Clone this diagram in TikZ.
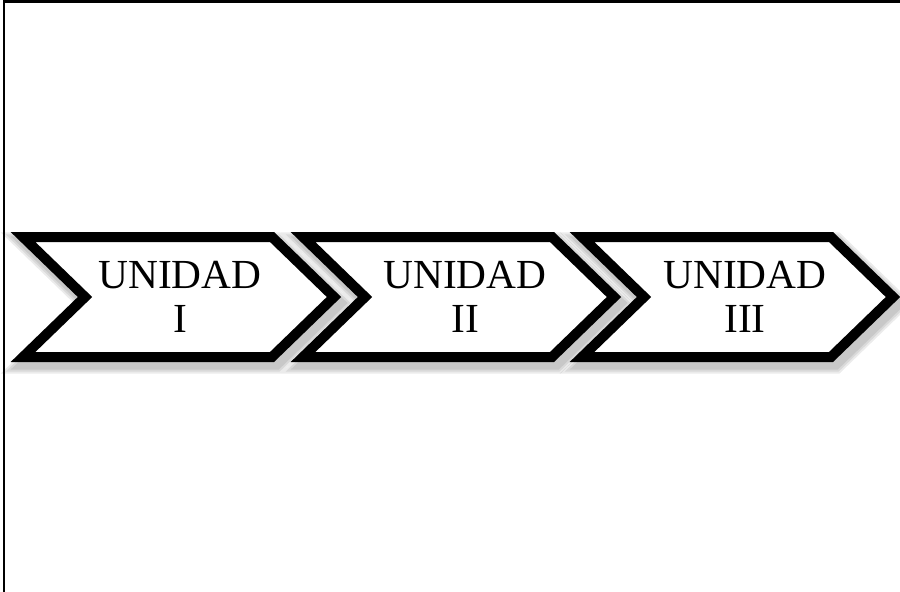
\documentclass[tikz,border=0pt]{standalone}
\usepackage{fontspec}
\setmainfont{Liberation Serif}
\tikzset{
  chev/.style={draw=black, fill=white, line width=7.5pt, line join=miter, miter limit=10},
  chevshadow/.style={draw=black, line width=#1, line join=miter, miter limit=10, opacity=0.08},
  lbl/.style={anchor=base, inner sep=0pt, font=\fontsize{31}{33}\selectfont},
  frame/.style={draw=black, line width=1.6pt}
}
\begin{document}
\begin{tikzpicture}[x=0.75pt,y=-0.75pt]
\useasboundingbox (0,0) rectangle (900,592);
\coordinate (fa) at (4,592);
\coordinate (fb) at (4,1.5);
\coordinate (fc) at (900,1.5);
\draw[frame] (fa) -- (fb) -- (fc);
\foreach \L/\n in {23/1,303/2,582/3}{
  \pgfmathsetmacro{\R}{\L+249}
  \pgfmathsetmacro{\Tp}{\L+311}
  \pgfmathsetmacro{\Nc}{\L+62}
  \begin{scope}[shift={(4,6)}]
    \draw[chevshadow=16pt] (\L,237) -- (\R,237) -- (\Tp,297) -- (\R,357) -- (\L,357) -- (\Nc,297) -- cycle;
    \draw[chevshadow=13pt] (\L,237) -- (\R,237) -- (\Tp,297) -- (\R,357) -- (\L,357) -- (\Nc,297) -- cycle;
    \draw[chevshadow=10pt] (\L,237) -- (\R,237) -- (\Tp,297) -- (\R,357) -- (\L,357) -- (\Nc,297) -- cycle;
  \end{scope}
}
\foreach \L/\n in {23/1,303/2,582/3}{
  \pgfmathsetmacro{\R}{\L+249}
  \pgfmathsetmacro{\Tp}{\L+311}
  \pgfmathsetmacro{\Nc}{\L+62}
  \draw[chev] (\L,237) -- (\R,237) -- (\Tp,297) -- (\R,357) -- (\L,357) -- (\Nc,297) -- cycle;
}
\node[lbl] (u1) at (180,288) {UNIDAD};
\node[lbl] (r1) at (180,332) {I};
\node[lbl] (u2) at (465,288) {UNIDAD};
\node[lbl] (r2) at (465,332) {II};
\node[lbl] (u3) at (745,288) {UNIDAD};
\node[lbl] (r3) at (745,332) {III};
\end{tikzpicture}
\end{document}
